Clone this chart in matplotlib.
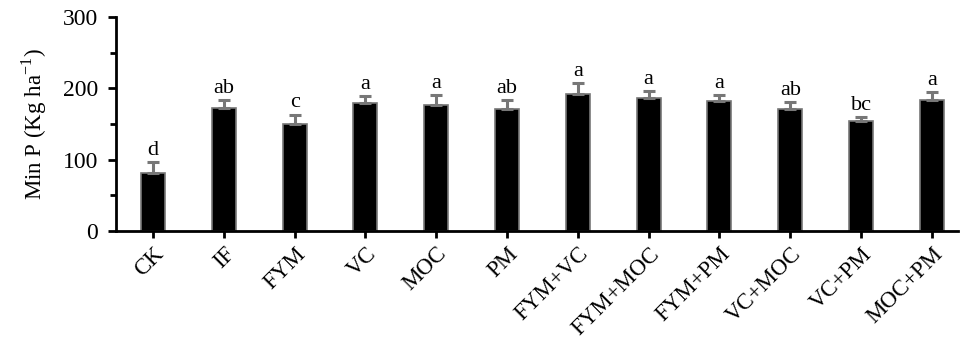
import matplotlib.pyplot as plt

treatments = ['CK', 'IF', 'FYM', 'VC', 'MOC', 'PM', 'FYM+VC', 'FYM+MOC',
              'FYM+PM', 'VC+MOC', 'VC+PM', 'MOC+PM']
min_p = [81, 172, 150, 179, 177, 171, 192, 187, 182, 171, 154, 184]
errors = [16, 12, 13, 10, 13, 12, 15, 9, 9, 10, 6, 11]
letters = ['d', 'ab', 'c', 'a', 'a', 'ab', 'a', 'a', 'a', 'ab', 'bc', 'a']

plt.rcParams['font.family'] = 'Liberation Serif'

fig = plt.figure(figsize=(9.6, 3.39), dpi=100)
ax = fig.add_axes([0.121, 0.319, 0.877, 0.631])

x = range(len(treatments))
ax.bar(x, min_p, width=0.34, color='black', edgecolor='#777777', linewidth=1.2,
       yerr=[[0] * len(errors), errors],
       error_kw=dict(ecolor='#777777', elinewidth=2.2, capsize=4.5, capthick=2.2))

# significance letters
for i, (v, e, s) in enumerate(zip(min_p, errors, letters)):
    ax.text(i, v + e + 3, s, ha='center', va='bottom', fontsize=16)

ax.set_xlim(-0.52, 11.37)
ax.set_ylim(0, 300)
ax.set_yticks([0, 100, 200, 300])
ax.set_yticks([50, 150, 250], minor=True)
ax.set_xticks(list(x))
ax.set_xticklabels(treatments, rotation=45, ha='right', rotation_mode='anchor',
                   fontsize=16.5)
ax.tick_params(axis='y', labelsize=17, width=2, length=6, direction='out', pad=7)
ax.tick_params(axis='y', which='minor', width=2, length=4)
ax.tick_params(axis='x', width=2, length=5, pad=4)
ax.set_ylabel('Min P (Kg ha$^{\\mathregular{-1}}$)', fontsize=16.5, labelpad=10)

for side in ['top', 'right']:
    ax.spines[side].set_visible(False)
for side in ['left', 'bottom']:
    ax.spines[side].set_linewidth(2)

fig.savefig('out.png', dpi=100)
